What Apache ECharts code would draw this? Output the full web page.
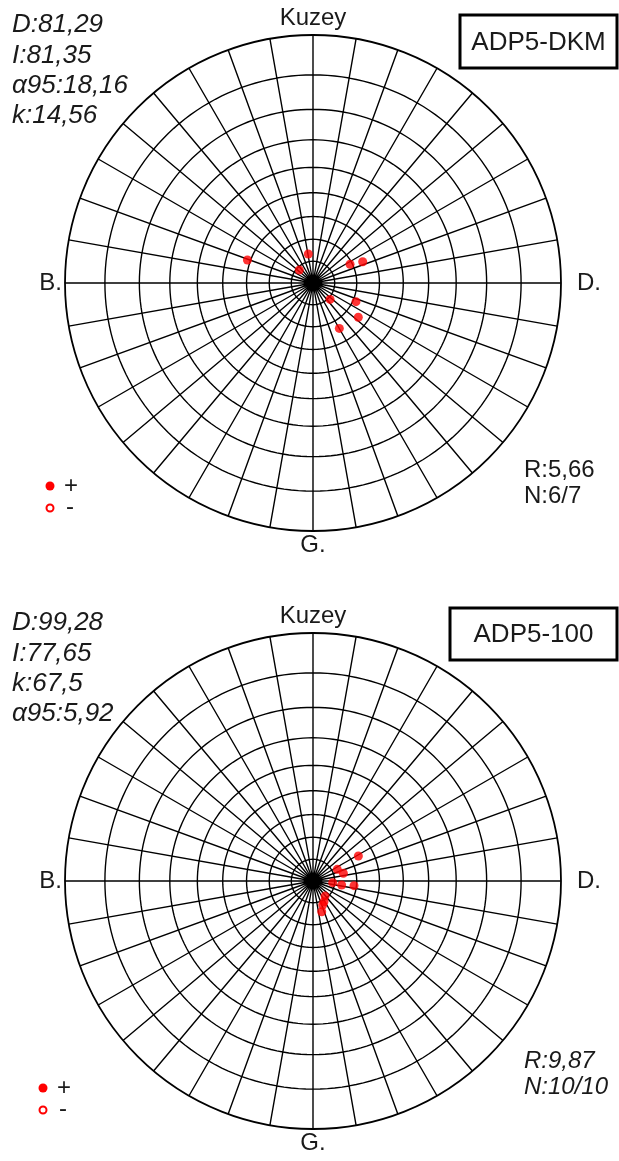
<!DOCTYPE html>
<html>
<head>
<meta charset="utf-8">
<script src="https://cdn.jsdelivr.net/npm/echarts@6/dist/echarts.min.js"></script>
<style>
  html, body { margin: 0; padding: 0; background: #fff; }
  #chart { width: 619px; height: 1161px; }
</style>
</head>
<body>
<div id="chart"></div>
<script>
// ust net - ADP5-DKM (dekl. / inkl.)
const dkmDec = [289.3, 350.8, 313.5, 63.2, 66.8, 133.8, 113.5, 127.1, 149.9]
const dkmInc = [58.7, 76.5, 81.3, 71.0, 65.4, 79.1, 68.6, 64.2, 66.1]
// alt net - ADP5-100
const d100Dec = [61.1, 64.3, 75.7, 94.9, 97.9, 96.5, 141.3, 152.0, 158.0, 164.2]
const d100Inc = [66.4, 77.6, 75.6, 80.9, 76.7, 71.1, 81.1, 79.2, 78.1, 75.3]

// grid halkalari (inklinasyon, derece)
const ringInc = [10, 20, 30, 40, 50, 60, 70, 80]

const dkmStats = ['D:81,29', 'I:81,35', 'α95:18,16', 'k:14,56']
const d100Stats = ['D:99,28', 'I:77,65', 'k:67,5', 'α95:5,92']
const dkmRN = ['R:5,66', 'N:6/7']
const d100RN = ['R:9,87', 'N:10/10']
const dirLabels = ['Kuzey', 'B.', 'D.', 'G.']
const signLabels = ['+', '-']
const titles = ['ADP5-DKM', 'ADP5-100']

const FONT = '"Liberation Sans", Arial, sans-serif'

// stereografik (Wulff) izdusum: merkezden uzaklik, 0..1
const proj = (inc) => Math.tan((90 - inc) / 2 * Math.PI / 180)

const ringSeries = (polarIndex) => ringInc.map(inc => {
  let pts = []
  for (let a = 0; a <= 360; a += 2) pts.push([proj(inc), a])
  return {
    type: 'line',
    coordinateSystem: 'polar',
    polarIndex: polarIndex,
    data: pts,
    symbol: 'none',
    silent: true,
    lineStyle: { color: '#000', width: 1.4 },
    z: 2
  }
})

const dotSeries = (polarIndex, dec, inc) => ({
  type: 'scatter',
  coordinateSystem: 'polar',
  polarIndex: polarIndex,
  data: dec.map((d, i) => [proj(inc[i]), d]),
  symbolSize: 9,
  itemStyle: { color: '#ff0000' },
  z: 5
})

const txt = (text, x, y, size, opts = {}) => ({
  type: 'text',
  z: 10,
  style: {
    text: text, x: x, y: y,
    fill: '#1a1a1a',
    font: (opts.italic ? 'italic ' : '') + size + 'px ' + FONT,
    textAlign: opts.align || 'left',
    textVerticalAlign: 'middle'
  }
})

// bir net icin yazilar
const netTexts = (cy, stats, rn, rnItalic, title, box, legX, legY) => {
  let g = []
  stats.forEach((s, i) => g.push(txt(s, 12, cy - 258 + i * 30.3, 26, { italic: true })))
  g.push(txt(dirLabels[0], 313, cy - 265, 24, { align: 'center' }))
  g.push(txt(dirLabels[1], 62, cy, 24, { align: 'right' }))
  g.push(txt(dirLabels[2], 577, cy, 24))
  g.push(txt(dirLabels[3], 313, cy + 262, 24, { align: 'center' }))
  g.push(txt(rn[0], 524, rn[2], 24, { italic: rnItalic }))
  g.push(txt(rn[1], 524, rn[2] + 26, 24, { italic: rnItalic }))
  g.push({
    type: 'rect', z: 9,
    shape: { x: box[0], y: box[1], width: box[2], height: box[3] },
    style: { fill: '#fff', stroke: '#000', lineWidth: 3 }
  })
  g.push(txt(title, box[0] + box[2] / 2, box[1] + box[3] / 2 + 1, 26, { align: 'center' }))
  g.push({ type: 'circle', z: 10, shape: { cx: legX, cy: legY, r: 4.5 }, style: { fill: '#ff0000' } })
  g.push({ type: 'circle', z: 10, shape: { cx: legX, cy: legY + 22, r: 3.5 }, style: { fill: '#fff', stroke: '#ff0000', lineWidth: 2 } })
  g.push(txt(signLabels[0], legX + 21, legY, 24, { align: 'center' }))
  g.push(txt(signLabels[1], legX + 20, legY + 21, 24, { align: 'center' }))
  return g
}

const angleAx = (i) => ({
  polarIndex: i,
  type: 'value',
  min: 0, max: 360, interval: 10,
  startAngle: 90, clockwise: true,
  axisLine: { lineStyle: { color: '#000', width: 1.8 } },
  axisTick: { show: false },
  axisLabel: { show: false },
  splitLine: { show: true, lineStyle: { color: '#000', width: 1.4 } }
})
const radiusAx = (i) => ({
  polarIndex: i,
  type: 'value', min: 0, max: 1,
  axisLine: { show: false }, axisTick: { show: false },
  axisLabel: { show: false }, splitLine: { show: false }
})

let option = {
  animation: false,
  backgroundColor: '#fff',
  polar: [
    { center: [313, 283], radius: 248 },
    { center: [313, 881], radius: 248 }
  ],
  angleAxis: [angleAx(0), angleAx(1)],
  radiusAxis: [radiusAx(0), radiusAx(1)],
  series: [
    ...ringSeries(0),
    ...ringSeries(1),
    dotSeries(0, dkmDec, dkmInc),
    dotSeries(1, d100Dec, d100Inc)
  ],
  graphic: [
    ...netTexts(283, dkmStats, [dkmRN[0], dkmRN[1], 470], false, titles[0], [460, 15, 157, 53], 50, 486),
    ...netTexts(881, d100Stats, [d100RN[0], d100RN[1], 1061], true, titles[1], [450, 608, 167, 52], 43, 1088)
  ]
}

const myChart = echarts.init(document.getElementById('chart'))
option && myChart.setOption(option)
</script>
</body>
</html>
